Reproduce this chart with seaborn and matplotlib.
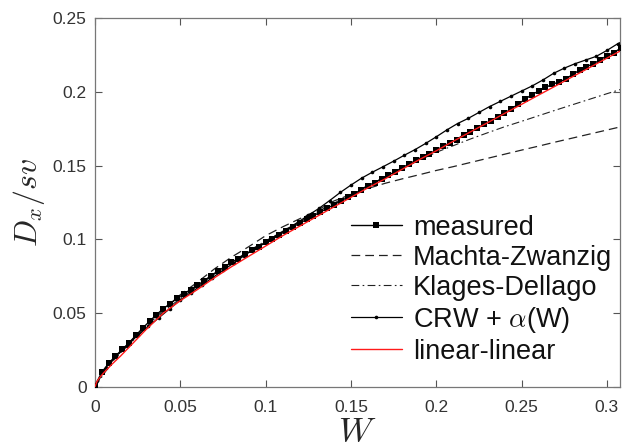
import matplotlib
matplotlib.use("Agg")
import matplotlib.pyplot as plt
import seaborn as sns

# measured D_x/sv
w_meas = [0.0, 0.004, 0.008, 0.012, 0.016, 0.020, 0.024, 0.028, 0.032, 0.036,
          0.040, 0.044, 0.048, 0.052, 0.056, 0.060, 0.064, 0.068, 0.072, 0.076,
          0.080, 0.084, 0.088, 0.092, 0.096, 0.100, 0.104, 0.108, 0.112, 0.116,
          0.120, 0.124, 0.128, 0.132, 0.136, 0.140, 0.144, 0.148, 0.152, 0.156,
          0.160, 0.164, 0.168, 0.172, 0.176, 0.180, 0.184, 0.188, 0.192, 0.196,
          0.200, 0.204, 0.208, 0.212, 0.216, 0.220, 0.224, 0.228, 0.232, 0.236,
          0.240, 0.244, 0.248, 0.252, 0.256, 0.260, 0.264, 0.268, 0.272, 0.276,
          0.280, 0.284, 0.288, 0.292, 0.296, 0.300, 0.304, 0.308]
d_meas = [0.001, 0.010, 0.016, 0.021, 0.0255, 0.030, 0.035, 0.040, 0.0445, 0.049,
          0.053, 0.0565, 0.060, 0.063, 0.066, 0.069, 0.072, 0.0755, 0.0785, 0.0815,
          0.0845, 0.087, 0.090, 0.0925, 0.095, 0.098, 0.1005, 0.103, 0.106, 0.1085,
          0.111, 0.1135, 0.116, 0.1185, 0.121, 0.1235, 0.126, 0.1285, 0.131, 0.1335,
          0.1365, 0.1385, 0.141, 0.1435, 0.146, 0.1485, 0.151, 0.1535, 0.156, 0.158,
          0.1605, 0.163, 0.1655, 0.1675, 0.171, 0.1725, 0.1755, 0.178, 0.1805, 0.183,
          0.1855, 0.1885, 0.1915, 0.195, 0.198, 0.2005, 0.203, 0.205, 0.2068, 0.2085,
          0.212, 0.2145, 0.217, 0.219, 0.2215, 0.2245, 0.2265, 0.2295]

# Machta-Zwanzig
w_mz = [0.0, 0.005, 0.01, 0.02, 0.03, 0.04, 0.05, 0.06, 0.07, 0.08, 0.09, 0.10,
        0.11, 0.12, 0.13, 0.14, 0.15, 0.16, 0.17, 0.18, 0.19, 0.20, 0.21, 0.22,
        0.23, 0.24, 0.25, 0.26, 0.27, 0.28, 0.29, 0.30, 0.31]
d_mz = [0.0, 0.011, 0.0175, 0.030, 0.041, 0.052, 0.0625, 0.071, 0.080, 0.088, 0.095, 0.1025,
        0.1085, 0.114, 0.1195, 0.126, 0.1305, 0.1345, 0.138, 0.141, 0.1438, 0.1467, 0.1493, 0.1521,
        0.1549, 0.1577, 0.1605, 0.1632, 0.166, 0.1687, 0.1714, 0.1741, 0.1768]

# Klages-Dellago
w_kd = [0.0, 0.01, 0.02, 0.03, 0.04, 0.05, 0.06, 0.07, 0.08, 0.09, 0.10, 0.11,
        0.12, 0.13, 0.14, 0.15, 0.16, 0.17, 0.18, 0.19, 0.20, 0.21, 0.22, 0.23,
        0.24, 0.25, 0.26, 0.27, 0.28, 0.29, 0.30, 0.31]
d_kd = [0.0, 0.017, 0.029, 0.040, 0.051, 0.060, 0.068, 0.0765, 0.0845, 0.092, 0.099, 0.1055,
        0.112, 0.1185, 0.1245, 0.1305, 0.1365, 0.1423, 0.148, 0.1535, 0.159, 0.1635, 0.168, 0.1722,
        0.1763, 0.180, 0.1838, 0.1876, 0.1913, 0.195, 0.1987, 0.2023]

# CRW + alpha(W)
w_crw = [0.0, 0.00625, 0.0125, 0.01875, 0.025, 0.03125, 0.0375, 0.04375, 0.05, 0.05625,
         0.0625, 0.06875, 0.075, 0.08125, 0.0875, 0.09375, 0.1, 0.10625, 0.1125, 0.11875,
         0.125, 0.13125, 0.1375, 0.14375, 0.15, 0.15625, 0.1625, 0.16875, 0.175, 0.18125,
         0.1875, 0.19375, 0.2, 0.20625, 0.2125, 0.21875, 0.225, 0.23125, 0.2375, 0.24375,
         0.25, 0.25625, 0.2625, 0.26875, 0.275, 0.28125, 0.2875, 0.29375, 0.3, 0.30625, 0.3125]
d_crw = [0.0, 0.013, 0.021, 0.028, 0.035, 0.041, 0.047, 0.053, 0.059, 0.064,
         0.069, 0.074, 0.079, 0.084, 0.089, 0.094, 0.098, 0.1025, 0.107, 0.1115,
         0.1163, 0.121, 0.1263, 0.1318, 0.1368, 0.1415, 0.1455, 0.1492, 0.153, 0.157,
         0.1608, 0.165, 0.1695, 0.1742, 0.1785, 0.182, 0.186, 0.190, 0.1935, 0.197,
         0.2005, 0.204, 0.208, 0.2125, 0.216, 0.219, 0.2215, 0.224, 0.228, 0.2325, 0.236]

# linear-linear model
w_lin = [0.0, 0.001, 0.0025, 0.005, 0.01, 0.015, 0.02, 0.025, 0.03, 0.035, 0.04, 0.05,
         0.06, 0.07, 0.08, 0.09, 0.10, 0.11, 0.12, 0.13, 0.14, 0.15, 0.16, 0.17,
         0.18, 0.19, 0.20, 0.21, 0.22, 0.23, 0.24, 0.25, 0.26, 0.27, 0.28, 0.29, 0.30, 0.31]
d_lin = [0.0, 0.0035, 0.006, 0.0095, 0.0155, 0.021, 0.027, 0.033, 0.039, 0.0445, 0.050, 0.0585,
         0.066, 0.074, 0.0815, 0.0885, 0.0955, 0.1025, 0.109, 0.1155, 0.122, 0.1285, 0.135, 0.141,
         0.1475, 0.154, 0.160, 0.1665, 0.1728, 0.179, 0.1853, 0.1915, 0.1978, 0.204, 0.2103, 0.2165, 0.2228, 0.229]

x_ticks = [0, 0.05, 0.1, 0.15, 0.2, 0.25, 0.3]
x_tick_labels = ["0", "0.05", "0.1", "0.15", "0.2", "0.25", "0.3"]
y_ticks = [0, 0.05, 0.1, 0.15, 0.2, 0.25]
y_tick_labels = ["0", "0.05", "0.1", "0.15", "0.2", "0.25"]

sns.set_style("ticks")
plt.rcParams["font.family"] = ["Liberation Sans", "DejaVu Sans"]
plt.rcParams["mathtext.fontset"] = "cm"

fig = plt.figure(figsize=(6.22, 4.47), dpi=100)
ax = fig.add_axes([95 / 622, 1 - 387 / 447, 525 / 622, 369 / 447])

line_kw = dict(ax=ax, sort=False, estimator=None)
sns.lineplot(x=w_meas, y=d_meas, color="black", lw=1.0, marker="s", markersize=5,
             markeredgewidth=0, label="measured", zorder=3, **line_kw)
sns.lineplot(x=w_mz, y=d_mz, color="#222222", lw=0.9, linestyle=(0, (7, 4)),
             label="Machta-Zwanzig", zorder=2, **line_kw)
sns.lineplot(x=w_kd, y=d_kd, color="#222222", lw=0.8, linestyle=(0, (7, 3, 1.5, 3)),
             label="Klages-Dellago", zorder=2, **line_kw)
sns.lineplot(x=w_crw, y=d_crw, color="black", lw=0.9, marker="o", markersize=2.6,
             markeredgewidth=0, label=r"CRW + $\alpha$(W)", zorder=3, **line_kw)
sns.lineplot(x=w_lin, y=d_lin, color="#ff1a1a", lw=1.0, label="linear-linear",
             zorder=4, **line_kw)

ax.set_xlim(0, 0.3077)
ax.set_ylim(0, 0.25)
ax.set_xticks(x_ticks)
ax.set_xticklabels(x_tick_labels)
ax.set_yticks(y_ticks)
ax.set_yticklabels(y_tick_labels)
ax.tick_params(direction="in", length=5, width=0.8, color="#555555",
               labelsize=12.5, labelcolor="#333333",
               bottom=True, left=True, top=True, right=True)
ax.tick_params(axis="x", pad=9)
ax.tick_params(axis="y", pad=6)
for s in ax.spines.values():
    s.set_visible(True)
    s.set_color("#777777")
    s.set_linewidth(0.9)

ax.set_xlabel(r"$W$", fontsize=25, labelpad=0)
ax.set_ylabel(r"$D_x/sv$", fontsize=23, labelpad=4)

leg = ax.legend(loc="lower right", bbox_to_anchor=(0.985, 0.06), frameon=False,
                fontsize=19.5, handlelength=1.9, handletextpad=0.4, labelspacing=0.15,
                borderpad=0, borderaxespad=0, numpoints=1)
for t in leg.get_texts():
    t.set_color("#111111")

fig.savefig("out.png", dpi=100)
